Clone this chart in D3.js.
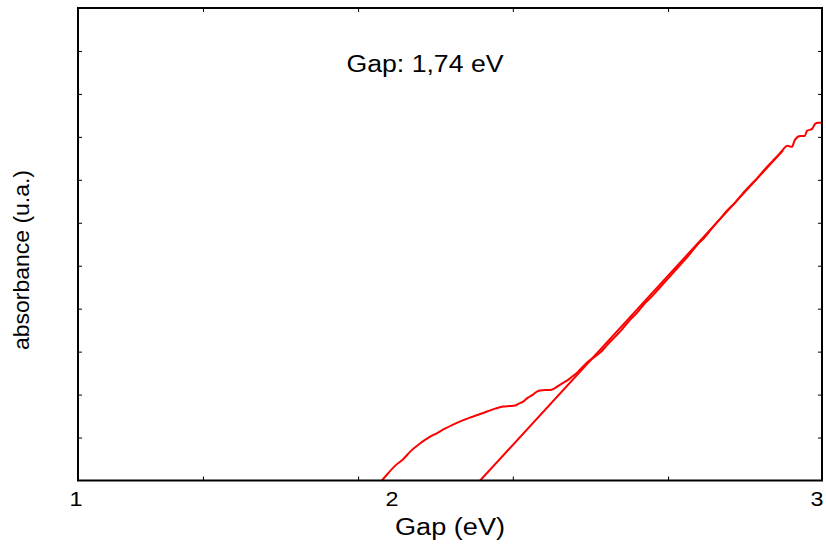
<!DOCTYPE html>
<html>
<head>
<meta charset="utf-8">
<script src="https://cdn.jsdelivr.net/npm/d3@7"></script>
<style>
  html, body { margin: 0; padding: 0; background: #fff; }
  svg { display: block; }
  text { font-family: "Liberation Sans", Arial, sans-serif; fill: #000; }
</style>
</head>
<body>
<div id="chart"></div>
<script>
// Photon energy (eV) and measured absorbance (arbitrary units)
const energy = [1.968, 1.987, 2.007, 2.026, 2.044, 2.065, 2.084, 2.105, 2.123, 2.142,
  2.163, 2.181, 2.202, 2.221, 2.240, 2.258, 2.274, 2.286, 2.295, 2.305,
  2.316, 2.328, 2.337, 2.344, 2.356, 2.367, 2.377, 2.384, 2.395, 2.407,
  2.419, 2.433, 2.444, 2.453, 2.467, 2.484, 2.500, 2.519, 2.535, 2.553,
  2.570, 2.588, 2.605, 2.623, 2.640, 2.658, 2.674, 2.693, 2.709, 2.728,
  2.744, 2.763, 2.779, 2.798, 2.814, 2.833, 2.849, 2.867, 2.884, 2.902,
  2.909, 2.919, 2.930, 2.937, 2.949, 2.960, 2.965, 2.977, 2.984, 2.991, 3.000];
const absorbance = [0, 0.163, 0.340, 0.495, 0.690, 0.860, 0.990, 1.105, 1.205, 1.302,
  1.395, 1.465, 1.535, 1.605, 1.674, 1.721, 1.733, 1.744, 1.791, 1.837,
  1.930, 2.000, 2.070, 2.093, 2.105, 2.105, 2.140, 2.186, 2.256, 2.326,
  2.419, 2.535, 2.651, 2.744, 2.849, 2.977, 3.151, 3.349, 3.520, 3.733,
  3.907, 4.126, 4.291, 4.493, 4.684, 4.884, 5.060, 5.279, 5.475, 5.674,
  5.872, 6.091, 6.279, 6.470, 6.663, 6.868, 7.035, 7.244, 7.425, 7.616,
  7.698, 7.791, 7.767, 7.930, 8.023, 8.023, 8.140, 8.186, 8.302, 8.326, 8.326];

// Linear fit of the absorption edge, extrapolated to zero absorbance
const fitEnergy = [2.205, 2.909];
const fitAbsorbance = [0, 7.681];

// Axis ticks and labels
const xLabelValues = [1, 2, 3];
const xLabelTexts = ["1", "2", "3"];
const xMinorTicks = [1.398, 1.892, 2.281, 2.642];
const yTicks = [1, 2, 3, 4, 5, 6, 7, 8, 9, 10];
const xTitle = "Gap (eV)";
const yTitle = "absorbance (u.a.)";
const annotation = "Gap: 1,74 eV";

const W = 826, H = 548;
const plotLeft = 78, plotRight = 822, plotTop = 8, plotBottom = 480.5;

const svg = d3.select("#chart").append("svg")
  .attr("width", W).attr("height", H);

const x = d3.scaleLinear().domain([1, 2, 3]).range([plotLeft, 392, plotRight]);
const y = d3.scaleLinear().domain([0, 11]).range([plotBottom, plotTop]);

// Inward ticks on all four sides
const tickStyle = g => {
  g.select(".domain").remove();
  g.selectAll(".tick line").attr("stroke", "#000").attr("stroke-width", 1);
  g.selectAll(".tick text").remove();
};
svg.append("g").attr("transform", `translate(0,${plotBottom})`)
  .call(d3.axisBottom(x).tickValues(xMinorTicks).tickSize(-4)).call(tickStyle);
svg.append("g").attr("transform", `translate(0,${plotTop})`)
  .call(d3.axisTop(x).tickValues(xMinorTicks).tickSize(-4)).call(tickStyle);
svg.append("g").attr("transform", `translate(${plotLeft},0)`)
  .call(d3.axisLeft(y).tickValues(yTicks).tickSize(-4)).call(tickStyle);
svg.append("g").attr("transform", `translate(${plotRight},0)`)
  .call(d3.axisRight(y).tickValues(yTicks).tickSize(-4)).call(tickStyle);

// Data: absorbance curve and tangent line
const pts = energy.map((e, i) => [e, absorbance[i]]);
const line = d3.line().x(d => x(d[0])).y(d => y(d[1]));
svg.append("path").datum(pts)
  .attr("fill", "none").attr("stroke", "#ff0000").attr("stroke-width", 2)
  .attr("stroke-linejoin", "round")
  .attr("d", line.curve(d3.curveMonotoneX));
svg.append("path").datum(fitEnergy.map((e, i) => [e, fitAbsorbance[i]]))
  .attr("fill", "none").attr("stroke", "#ff0000").attr("stroke-width", 2)
  .attr("d", d3.line().x(d => x(d[0])).y(d => y(d[1])));

// Frame
svg.append("rect")
  .attr("x", plotLeft).attr("y", plotTop)
  .attr("width", plotRight - plotLeft).attr("height", plotBottom - plotTop)
  .attr("fill", "none").attr("stroke", "#000").attr("stroke-width", 2);

// Tick labels
const labelShift = [-2, 0, -5];
svg.append("g").selectAll("text").data(xLabelValues).join("text")
  .attr("x", (d, i) => x(d) + labelShift[i])
  .attr("y", 506)
  .attr("text-anchor", "middle")
  .attr("font-size", 21)
  .attr("textLength", 13).attr("lengthAdjust", "spacingAndGlyphs")
  .text((d, i) => xLabelTexts[i]);

// Axis titles
svg.append("text")
  .attr("x", 450).attr("y", 535)
  .attr("text-anchor", "middle").attr("font-size", 23.5)
  .attr("textLength", 110).attr("lengthAdjust", "spacingAndGlyphs")
  .text(xTitle);

svg.append("text")
  .attr("transform", "translate(29,260) rotate(-90)")
  .attr("text-anchor", "middle").attr("font-size", 22)
  .attr("textLength", 180).attr("lengthAdjust", "spacingAndGlyphs")
  .text(yTitle);

// Band gap annotation
svg.append("text")
  .attr("x", 425).attr("y", 72)
  .attr("text-anchor", "middle").attr("font-size", 23.5)
  .attr("textLength", 157).attr("lengthAdjust", "spacingAndGlyphs")
  .text(annotation);
</script>
</body>
</html>
